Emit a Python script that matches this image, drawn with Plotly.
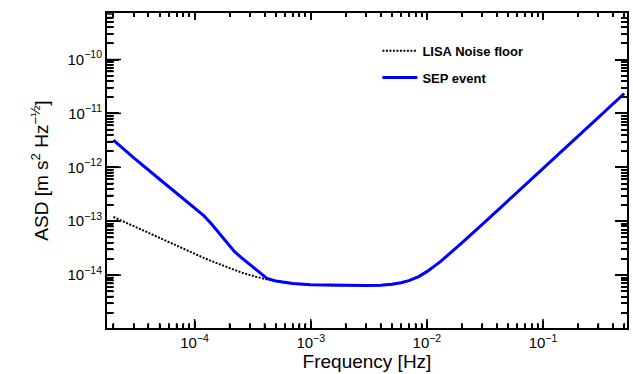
import math
import plotly.graph_objects as go

# ---- data ----
freq = [2e-5, 3e-5, 5e-5, 7e-5, 1e-4, 1.2e-4, 1.4e-4, 1.6e-4, 1.8e-4, 2.0e-4, 2.2e-4, 2.5e-4,
        2.8e-4, 3.1e-4, 3.4e-4, 3.8e-4, 4.2e-4, 5e-4, 7e-4, 1e-3, 1.5e-3, 2e-3, 3e-3, 4e-3,
        5e-3, 6e-3, 7e-3, 8.5e-3, 1e-2, 1.3e-2, 1.6e-2, 2e-2, 3e-2, 5e-2, 0.1, 0.2, 0.3, 0.5]

lisa_noise = [1.20e-13, 8.02e-14, 4.84e-14, 3.48e-14, 2.47e-14, 2.09e-14, 1.82e-14, 1.62e-14,
              1.46e-14, 1.34e-14, 1.245e-14, 1.13e-14, 1.046e-14, 9.8e-15, 9.26e-15, 8.75e-15,
              8.35e-15, 7.75e-15, 7.0e-15, 6.6e-15, 6.45e-15, 6.4e-15, 6.4e-15, 6.5e-15,
              6.75e-15, 7.2e-15, 7.9e-15, 9.4e-15, 1.16e-14, 1.76e-14, 2.57e-14, 3.95e-14,
              8.7e-14, 2.38e-13, 9.38e-13, 3.75e-12, 8.44e-12, 2.34e-11]

sep_event = [3.18e-12, 1.49e-12, 6.0e-13, 3.3e-13, 1.75e-13, 1.27e-13, 8.9e-14, 6.2e-14,
             4.5e-14, 3.45e-14, 2.75e-14, 2.15e-14, 1.77e-14, 1.48e-14, 1.25e-14, 1.02e-14,
             8.7e-15, 7.8e-15, 7.0e-15, 6.6e-15, 6.45e-15, 6.4e-15, 6.4e-15, 6.5e-15,
             6.75e-15, 7.2e-15, 7.9e-15, 9.4e-15, 1.16e-14, 1.76e-14, 2.57e-14, 3.95e-14,
             8.7e-14, 2.38e-13, 9.38e-13, 3.75e-12, 8.44e-12, 2.34e-11]

x_tick_vals = [1e-4, 1e-3, 1e-2, 1e-1]
x_tick_text = ["10<sup>−4</sup>", "10<sup>−3</sup>", "10<sup>−2</sup>", "10<sup>−1</sup>"]
y_tick_vals = [1e-14, 1e-13, 1e-12, 1e-11, 1e-10]
y_tick_text = ["10<sup>−14</sup>", "10<sup>−13</sup>", "10<sup>−12</sup>", "10<sup>−11</sup>", "10<sup>−10</sup>"]

FONT = "Liberation Sans"
X_RANGE = [-4.754, -0.277]
Y_RANGE = [-14.981, -9.137]
W, H = 633, 374
ML, MR, MT, MB = 107, 6, 13, 46
PW, PH = W - ML - MR, H - MT - MB

fig = go.Figure()
fig.add_trace(go.Scatter(
    x=freq, y=lisa_noise, mode="lines", name="LISA Noise floor",
    line=dict(color="black", width=2, dash="2px,1.5px"), legendgroup="a"))
fig.add_trace(go.Scatter(
    x=freq, y=sep_event, mode="lines", name="SEP event",
    line=dict(color="#0000ff", width=3), legendgroup="b"))

# tick marks on the bottom and left frame edges, drawn on the axes' own scales
x_span = X_RANGE[1] - X_RANGE[0]
y_span = Y_RANGE[1] - Y_RANGE[0]
bx, by = [], []
for e in range(-5, 0):
    for m in range(1, 10):
        v = m * 10.0 ** e
        lv = math.log10(v)
        if X_RANGE[0] < lv < X_RANGE[1]:
            ln = 9 if m == 1 else 5
            bx += [v, v, None]
            by += [10 ** Y_RANGE[0], 10 ** (Y_RANGE[0] + ln / PH * y_span), None]
lx, ly = [], []
for e in range(-15, -9):
    for m in range(1, 10):
        v = m * 10.0 ** e
        lv = math.log10(v)
        if Y_RANGE[0] < lv < Y_RANGE[1]:
            ln = 14 if m == 1 else 7
            lx += [10 ** X_RANGE[0], 10 ** (X_RANGE[0] + ln / PW * x_span), None]
            ly += [v, v, None]
fig.add_trace(go.Scatter(x=bx, y=by, mode="lines", line=dict(color="black", width=1.5),
                         showlegend=False, hoverinfo="skip", cliponaxis=False))
fig.add_trace(go.Scatter(x=lx, y=ly, mode="lines", line=dict(color="black", width=1.5),
                         showlegend=False, hoverinfo="skip", cliponaxis=False))

base = dict(type="log", showgrid=False, zeroline=False, tickcolor="black",
            tickwidth=1.5, tickmode="array", showline=True, linewidth=2,
            linecolor="black", mirror="allticks", ticks="inside")

def minor(length):
    return dict(ticks="inside", ticklen=length, tickwidth=1.5, tickcolor="black",
                dtick="D1", showgrid=False)

fig.update_layout(
    xaxis=dict(**base, range=X_RANGE, tickvals=x_tick_vals, ticktext=x_tick_text,
               ticklen=7, minor=minor(4),
               tickfont=dict(family=FONT, size=15, color="black"),
               title=dict(text="Frequency [Hz]", font=dict(family=FONT, size=19, color="black"),
                          standoff=3)),
    yaxis=dict(**base, range=Y_RANGE, tickvals=y_tick_vals, ticktext=y_tick_text,
               ticklen=12, minor=minor(6),
               tickfont=dict(family=FONT, size=15, color="black"),
               title=dict(text="ASD [m s<sup>2</sup> Hz<sup>−½</sup>]",
                          font=dict(family=FONT, size=19, color="black"), standoff=14)),
)

fig.update_layout(
    width=W, height=H,
    margin=dict(l=ML, r=MR, t=MT, b=MB, autoexpand=False),
    paper_bgcolor="white", plot_bgcolor="white",
    showlegend=True,
    legend=dict(x=0.52, y=0.928, xanchor="left", yanchor="top",
                bgcolor="rgba(0,0,0,0)", borderwidth=0,
                font=dict(family=FONT, size=13, color="black", weight="bold"),
                traceorder="grouped", tracegroupgap=7, itemwidth=35),
)

fig.write_html("out.html")
